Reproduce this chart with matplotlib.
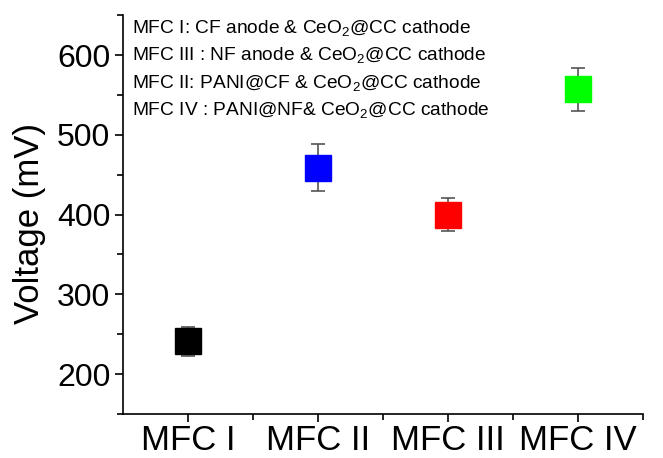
import matplotlib
matplotlib.use('Agg')
import matplotlib.pyplot as plt
from matplotlib.ticker import MultipleLocator, FixedLocator

plt.rcParams['font.family'] = ['Liberation Sans', 'DejaVu Sans']
plt.rcParams['mathtext.fontset'] = 'custom'
plt.rcParams['mathtext.rm'] = 'Liberation Sans'

# data
cells = ['MFC I', 'MFC II', 'MFC III', 'MFC IV']
voltage = [241, 459, 400, 557]
voltage_err = [18, 30, 21, 27]
colors = ['#000000', '#0000ff', '#ff0000', '#00ff00']
notes = [
    r'MFC I: CF anode & CeO$_2$@CC cathode',
    r'MFC III : NF anode & CeO$_2$@CC cathode',
    r'MFC II: PANI@CF & CeO$_2$@CC cathode',
    r'MFC IV : PANI@NF& CeO$_2$@CC cathode',
]

fig = plt.figure(figsize=(6.63, 4.58), dpi=100)
ax = fig.add_axes([0.1855, 0.096, 0.7845, 0.871])

xs = range(1, len(cells) + 1)
for x, v, e, c in zip(xs, voltage, voltage_err, colors):
    ax.errorbar(x, v, yerr=e, fmt='none', ecolor='#555555', elinewidth=1.2,
                capsize=5, capthick=1.2, zorder=2)
    ax.plot(x, v, marker='s', markersize=19, color=c, linestyle='none', zorder=3)

ax.set_xlim(0.5, 4.5)
ax.set_ylim(150, 650)
ax.set_xticks(list(xs))
ax.set_xticklabels(cells, fontsize=25)
ax.xaxis.set_minor_locator(FixedLocator([1.5, 2.5, 3.5, 4.5]))
ax.set_yticks([200, 300, 400, 500, 600])
ax.yaxis.set_minor_locator(MultipleLocator(50))
ax.tick_params(axis='y', labelsize=23, pad=3)
ax.tick_params(axis='x', pad=1.5)
ax.tick_params(which='major', direction='out', length=6, width=1.2)
ax.tick_params(which='minor', direction='out', length=4, width=1.2)
ax.set_ylabel('Voltage (mV)', fontsize=25)
ax.yaxis.set_label_coords(-0.148, 0.478)

for side in ['top', 'right']:
    ax.spines[side].set_visible(False)
for side in ['left', 'bottom']:
    ax.spines[side].set_linewidth(1.2)

ys = [0.938, 0.877, 0.817, 0.758]
for t, y in zip(notes, ys):
    fig.text(0.199, y, t, fontsize=13.8, va='center', ha='left')

fig.savefig('out.png', dpi=100)
